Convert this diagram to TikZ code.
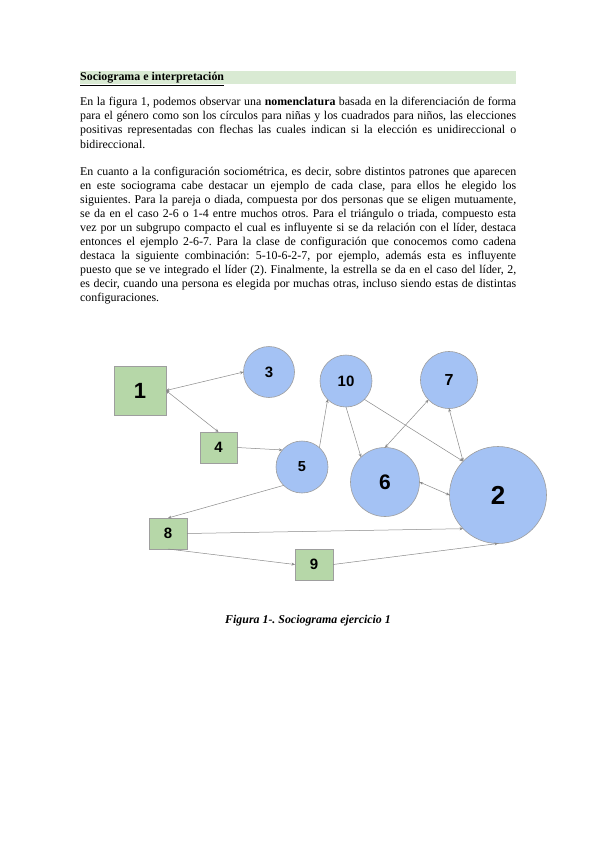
\documentclass[tikz,border=0pt]{standalone}
\usepackage{fontspec}
\setmainfont{Liberation Serif}
\newfontfamily\arialf{Liberation Sans}
\usetikzlibrary{arrows.meta}
\definecolor{circfill}{HTML}{A4C2F4}
\definecolor{sqfill}{HTML}{B6D7A8}
\definecolor{nodeborder}{HTML}{9E9E9E}
\definecolor{edgegray}{HTML}{8A8A8A}
\definecolor{headbar}{HTML}{D9EAD3}
\newcommand{\jline}[1]{\makebox[436pt][s]{#1}}
\frenchspacing
\begin{document}
\begin{tikzpicture}[x=1pt,y=-1pt,
 girl/.style={circle, draw=nodeborder, fill=circfill, line width=0.6pt, inner sep=0pt, outer sep=0pt, font=\arialf\bfseries},
 boy/.style={rectangle, draw=nodeborder, fill=sqfill, line width=0.6pt, inner sep=0pt, outer sep=0pt, font=\arialf\bfseries},
 link/.style={draw=edgegray, line width=0.5pt, -{Stealth[length=3.5pt,width=3pt]}},
 both/.style={draw=edgegray, line width=0.5pt, {Stealth[length=3.5pt,width=3pt]}-{Stealth[length=3.5pt,width=3pt]}},
 txt/.style={anchor=base west, inner sep=0pt, font=\fontsize{11.9}{14}\selectfont}]
\useasboundingbox[fill=white] (0,0) rectangle (599,848);
% heading
\fill[headbar] (80,71) rectangle (516,84);
\node[txt] (head) at (80,81) {\textbf{\underline{Sociograma e interpretación}}};
% paragraph 1
\node[txt] (l1) at (80,106) {\jline{En la figura 1, podemos observar una \textbf{nomenclatura} basada en la diferenciación de forma}};
\node[txt] (l2) at (80,120) {\jline{para el género como son los círculos para niñas y los cuadrados para niños, las elecciones}};
\node[txt] (l3) at (80,134) {\jline{positivas representadas con flechas las cuales indican si la elección es unidireccional o}};
\node[txt] (l4) at (80,148) {bidireccional.};
% paragraph 2
\node[txt] (m1) at (80,175) {\jline{En cuanto a la configuración sociométrica, es decir, sobre distintos patrones que aparecen}};
\node[txt] (m2) at (80,189) {\jline{en este sociograma cabe destacar un ejemplo de cada clase, para ellos he elegido los}};
\node[txt] (m3) at (80,203) {\jline{siguientes. Para la pareja o diada, compuesta por dos personas que se eligen mutuamente,}};
\node[txt] (m4) at (80,217) {\jline{se da en el caso 2-6 o 1-4 entre muchos otros. Para el triángulo o triada, compuesto esta}};
\node[txt] (m5) at (80,231) {\jline{vez por un subgrupo compacto el cual es influyente si se da relación con el líder, destaca}};
\node[txt] (m6) at (80,245) {\jline{entonces el ejemplo 2-6-7. Para la clase de configuración que conocemos como cadena}};
\node[txt] (m7) at (80,259) {\jline{destaca la siguiente combinación: 5-10-6-2-7, por ejemplo, además esta es influyente}};
\node[txt] (m8) at (80,273) {\jline{puesto que se ve integrado el líder (2). Finalmente, la estrella se da en el caso del líder, 2,}};
\node[txt] (m9) at (80,287) {\jline{es decir, cuando una persona es elegida por muchas otras, incluso siendo estas de distintas}};
\node[txt] (m10) at (80,301) {configuraciones.};
% sociogram nodes
\node[boy, minimum width=52pt, minimum height=49pt, font=\arialf\bfseries\fontsize{22}{22}\selectfont] (n1) at (140,390.5) {1};
\node[girl, minimum size=51pt, font=\arialf\bfseries\fontsize{15}{15}\selectfont] (n3) at (269,372) {3};
\node[boy, minimum width=37pt, minimum height=31pt, font=\arialf\bfseries\fontsize{15}{15}\selectfont] (n4) at (218.5,447.5) {4};
\node[girl, minimum size=52pt, font=\arialf\bfseries\fontsize{14.5}{15}\selectfont] (n5) at (302,467) {5};
\node[girl, minimum size=52pt, font=\arialf\bfseries\fontsize{15}{15}\selectfont] (n10) at (346,381) {10};
\node[girl, minimum size=57pt, font=\arialf\bfseries\fontsize{16}{16}\selectfont] (n7) at (449,380) {7};
\node[girl, minimum size=69pt, font=\arialf\bfseries\fontsize{21}{21}\selectfont] (n6) at (385,482) {6};
\node[girl, minimum size=97pt, font=\arialf\bfseries\fontsize{26}{26}\selectfont] (n2) at (498,495) {2};
\node[boy, minimum width=38pt, minimum height=31pt, font=\arialf\bfseries\fontsize{15}{15}\selectfont] (n8) at (168,533.5) {8};
\node[boy, minimum width=38pt, minimum height=31pt, font=\arialf\bfseries\fontsize{15}{15}\selectfont] (n9) at (314,564.5) {9};
% connectors
\draw[both] (n1.east) -- (n3.west);
\draw[both] (n1.east) -- (n4.north);
\draw[link] (n4.east) -- (n5.139);
\draw[link] (n5.48) -- (n10.225);
\draw[link] (n10.270) -- (n6.134);
\draw[link] (n10.-45) -- (n2.136);
\draw[both] (n7.224) -- (n6.90);
\draw[both] (n7.270) -- (n2.136);
\draw[both] (n6.0) -- (n2.180);
\draw[link] (n5.225) -- (n8.north);
\draw[link] (n8.east) -- (n2.224);
\draw[link] (n8.south) -- (n9.west);
\draw[link] (n9.east) -- (n2.270);
% caption
\node[anchor=base, inner sep=0pt, font=\fontsize{11.9}{14}\selectfont\bfseries\itshape] (cap) at (308,623) {Figura 1-. Sociograma ejercicio 1};
\end{tikzpicture}
\end{document}
